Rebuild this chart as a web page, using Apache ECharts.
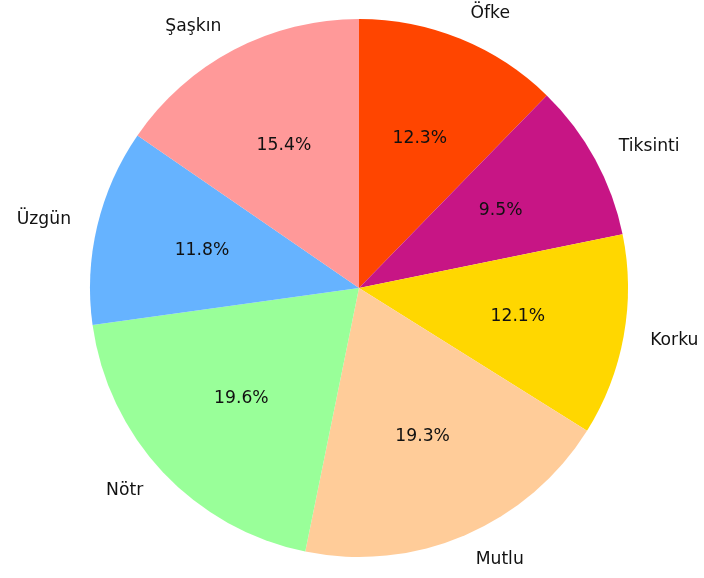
<!DOCTYPE html>
<html>
<head>
<meta charset="utf-8">
<script src="https://cdn.jsdelivr.net/npm/echarts@6/dist/echarts.min.js"></script>
<style>
  html, body { margin: 0; padding: 0; background: #fff; }
  #chart { width: 704px; height: 578px; }
</style>
</head>
<body>
<div id="chart"></div>
<script>
// clockwise from 12 o'clock
const labels = ["Öfke", "Tiksinti", "Korku", "Mutlu", "Nötr", "Üzgün", "Şaşkın"];
const shares = [12.3, 9.5, 12.1, 19.3, 19.6, 11.8, 15.4];
const colors = ["#ff4500", "#c71585", "#ffd700", "#ffcc99", "#99ff99", "#66b3ff", "#ff9999"];

const R = 269;
const font = "DejaVu Sans";
const fontSize = 17.2;

const chart = echarts.init(document.getElementById("chart"), null, { renderer: "canvas" });

const sliceData = labels.map((name, i) => ({ name, value: shares[i], itemStyle: { color: colors[i] } }));

chart.setOption({
  backgroundColor: "#ffffff",
  animation: false,
  series: [
    {
      // slices + name labels at ~1.1R
      type: "pie",
      center: [359, 288],
      radius: [0, R],
      startAngle: 90,
      clockwise: true,
      avoidLabelOverlap: false,
      silent: true,
      data: sliceData,
      itemStyle: { borderWidth: 0 },
      label: {
        show: true,
        position: "outside",
        alignTo: "none",
        distanceToLabelLine: 0,
        color: "#111",
        fontFamily: font,
        fontSize: fontSize,
        formatter: "{b}"
      },
      labelLine: { show: false, length: R * 0.1, length2: 0 },
      emphasis: { disabled: true }
    },
    {
      // transparent ring, only used to put the percent text at ~0.6R
      type: "pie",
      center: [359, 288],
      radius: [R * 0.2 - 6, R],
      startAngle: 90,
      clockwise: true,
      silent: true,
      z: 3,
      data: labels.map((name, i) => ({ name, value: shares[i] })),
      itemStyle: { color: "transparent", borderWidth: 0 },
      label: {
        show: true,
        position: "inside",
        color: "#111",
        fontFamily: font,
        fontSize: fontSize,
        formatter: (p) => p.value.toFixed(1) + "%"
      },
      labelLine: { show: false },
      emphasis: { disabled: true }
    }
  ]
});
</script>
</body>
</html>
